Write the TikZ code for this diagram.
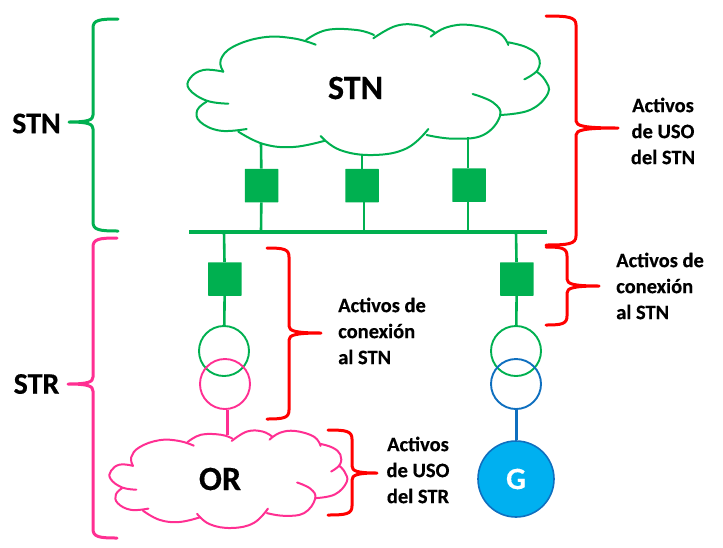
\documentclass[tikz,border=0pt]{standalone}
\usepackage{fontspec}
\setmainfont{Carlito}[BoldFeatures={FakeBold=0.35}]
\definecolor{gr}{HTML}{00B050}
\definecolor{pk}{HTML}{FF2F92}
\definecolor{rd}{HTML}{FF0000}
\definecolor{bl}{HTML}{0F6FBF}
\definecolor{cy}{HTML}{00B0F0}
\tikzset{
  x=1pt,y=-1pt,
  cloudline/.style={line width=2pt,line cap=round,smooth,tension=0.7},
  sw/.style={draw=none,fill=gr,minimum width=33.5pt,minimum height=33.5pt,inner sep=0pt,rounded corners=0.5pt},
  tf/.style={circle,minimum size=50pt,inner sep=0pt,line width=1.9pt},
  brc/.style={line width=3pt,line cap=round,line join=round},
  lbl/.style={font=\bfseries\fontsize{20.5}{26}\selectfont,inner sep=0pt},
  big/.style={font=\bfseries\fontsize{34}{36}\selectfont,inner sep=0pt},
  side/.style={font=\bfseries\fontsize{30}{32}\selectfont,inner sep=0pt},
}
\newcommand\cloudshape[1]{%
  \draw[cloudline,#1] plot coordinates {(160,185)(100,180)(60,205)(58,238)(110,272)(175,281)};
  \draw[cloudline,#1] plot coordinates {(110,275)(82,300)(90,335)(150,362)(230,357)};
  \draw[cloudline,#1] plot coordinates {(205,365)(280,402)(370,411)(465,392)};
  \draw[cloudline,#1] plot coordinates {(452,378)(510,420)(610,435)(710,415)(775,357)};
  \draw[cloudline,#1] plot coordinates {(770,375)(850,386)(940,375)(990,318)(970,278)(908,252)};
  \draw[cloudline,#1] plot coordinates {(990,315)(1080,300)(1134,250)(1125,210)(1100,185)};
  \draw[cloudline,#1] plot coordinates {(1063,208)(1103,180)(1105,140)(1070,112)(1015,97)};
  \draw[cloudline,#1] plot coordinates {(1015,105)(985,68)(900,45)(830,52)(782,80)};
  \draw[cloudline,#1] plot coordinates {(795,68)(750,47)(680,47)(610,85)};
  \draw[cloudline,#1] plot coordinates {(612,75)(560,60)(470,60)(408,90)};
  \draw[cloudline,#1] plot coordinates {(437,104)(370,85)(280,82)(190,110)(152,150)(160,185)};
}
% colour, x of ends, x of spine, x of point, y top, y mid, y bottom
\newcommand\mybrace[7]{%
  \draw[brc,#1] (#2,#5) .. controls ({#3+0.25*(#2-#3)},#5) and (#3,{#5+1}) .. (#3,{#5+9})
    -- (#3,{#6-7}) .. controls (#3,{#6-2}) and ({#3+0.2*(#4-#3)},#6) .. (#4,#6)
    .. controls ({#3+0.2*(#4-#3)},#6) and (#3,{#6+2}) .. (#3,{#6+7})
    -- (#3,{#7-9}) .. controls (#3,{#7-1}) and ({#3+0.25*(#2-#3)},#7) .. (#2,#7);
}
\begin{document}
\begin{tikzpicture}
\useasboundingbox (0,0) rectangle (723,547);
% clouds
\begin{scope}[shift={(170,10)},xscale=0.33333,yscale=0.33333]
  \cloudshape{gr}
\end{scope}
\begin{scope}[shift={(97.9,419.8)},xscale=0.2194,yscale=0.2487]
  \cloudshape{pk}
\end{scope}
\node[big] (tstn) at (355.5,88) {STN};
\node[big] (tor) at (220,479) {OR};
% anchors
\coordinate (busL) at (189,232);
\coordinate (busR) at (547,232);
\coordinate (b1) at (261,232);
\coordinate (b2) at (364,232);
\coordinate (b3) at (468,232);
\coordinate (b4) at (224,232);
\coordinate (b5) at (516,232);
\coordinate (c1) at (261,143);
\coordinate (c2) at (362,154);
\coordinate (c3) at (468,137);
\coordinate (c4) at (227,435);
% switches
\node[sw] (s1) at (261.5,185.5) {};
\node[sw] (s2) at (362,185.5) {};
\node[sw] (s3) at (469,185) {};
\node[sw] (s4) at (224.8,279) {};
\node[sw] (s5) at (516.8,279) {};
% transformers
\node[tf,draw=gr] (t1) at (224,351) {};
\node[tf,draw=pk] (t2) at (225,384) {};
\node[tf,draw=gr] (t3) at (516,351) {};
\node[tf,draw=bl] (t4) at (516,384) {};
\node[circle,minimum size=76pt,inner sep=0pt,fill=cy,draw=bl,line width=1.6pt,text=white,font=\bfseries\fontsize{31}{34}\selectfont] (g) at (516,479) {G};
% connectors
\draw[gr,line width=4pt] (busL) -- (busR);
\draw[gr,line width=2.6pt] (c1) -- (s1) (s1) -- (b1);
\draw[gr,line width=2.6pt] (c2) -- (s2.north -| c2);
\draw[gr,line width=2.6pt] (s2.south -| b2) -- (b2);
\draw[gr,line width=2.8pt] (c3) -- (s3.north -| c3) (s3.south -| b3) -- (b3);
\draw[gr,line width=2.6pt] (b4) -- (s4) (s4) -- (t1);
\draw[gr,line width=2.6pt] (b5) -- (s5) (s5) -- (t3);
\draw[pk,line width=3pt] (t2.south -| c4) -- (c4);
\draw[bl,line width=3pt] (t4) -- (g);
% braces
\mybrace{gr}{118}{93}{69}{19}{122}{231}
\mybrace{pk}{117}{93}{68}{238}{384}{538}
\mybrace{rd}{546}{576}{618}{16}{128}{245}
\mybrace{rd}{546}{567}{599}{247}{286}{325}
\mybrace{rd}{267}{289}{321}{248}{333}{419}
\mybrace{rd}{328}{352}{377}{430}{473}{515}
% labels
\node[side] (lstn) at (36.5,123.5) {STN};
\node[side] (lstr) at (36.5,384) {STR};
\node[lbl,align=center] (a1) at (663,131) {Activos\\de USO\\del STN};
\node[lbl,align=left,anchor=west] (a2) at (338,331) {Activos de\\conexión\\al STN};
\node[lbl,align=left,anchor=west] (a3) at (616,286) {Activos de\\conexión\\al STN};
\node[lbl,align=center] (a4) at (418,470) {Activos\\de USO\\del STR};
\end{tikzpicture}
\end{document}
